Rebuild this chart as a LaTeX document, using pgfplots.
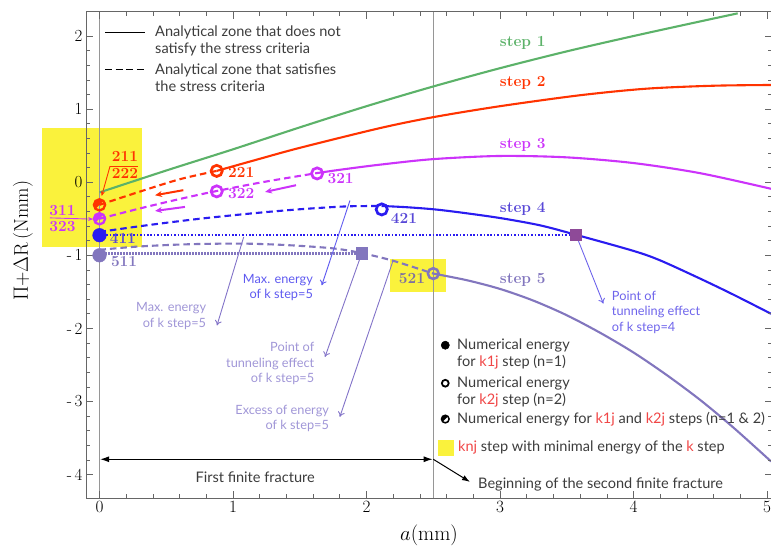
\documentclass[border=0pt]{standalone}
\usepackage{pgfplots}
\pgfplotsset{compat=1.18}
\usepackage{fontspec}
\newfontfamily\lato{Lato}
\usetikzlibrary{arrows.meta}

\definecolor{cgreen}{RGB}{92,178,105}
\definecolor{cred}{RGB}{255,51,0}
\definecolor{cmag}{RGB}{204,51,250}
\definecolor{cblue}{RGB}{42,28,240}
\definecolor{cbluelab}{RGB}{88,72,215}
\definecolor{clav}{RGB}{130,118,190}
\definecolor{csqfour}{RGB}{142,74,152}
\definecolor{cyel}{RGB}{250,242,60}
\definecolor{cgridl}{RGB}{150,150,150}
\definecolor{ctext}{RGB}{60,60,60}
\definecolor{ckred}{RGB}{240,70,70}
\definecolor{cannlav}{RGB}{160,150,215}
\definecolor{carrlav}{RGB}{130,115,200}
\definecolor{cannblue}{RGB}{95,90,240}
\definecolor{cannfour}{RGB}{110,100,235}
\definecolor{clab521}{RGB}{125,112,160}

% half-filled circle: upper-left half filled, full outline
\pgfdeclareplotmark{halfo}{%
  \pgfpathmoveto{\pgfpointpolar{45}{\pgfplotmarksize}}%
  \pgfpatharc{45}{225}{\pgfplotmarksize}%
  \pgfpathclose
  \pgfusepathqfill
  \pgfpathcircle{\pgfpointorigin}{\pgfplotmarksize}%
  \pgfusepathqstroke
}

\newcommand\lgd{\lato\fontsize{14.6}{17}\selectfont}
\newcommand\ann{\lato\fontsize{12.8}{15.3}\selectfont}
\newcommand\stp{\fontsize{15.5}{16}\selectfont\bfseries}

\begin{document}
\begin{tikzpicture}
\begin{axis}[
  at={(86bp,48bp)}, anchor=south west,
  scale only axis, width=686bp, height=486.1bp,
  xmin=-0.101, xmax=5.037, ymin=-4.32, ymax=2.33,
  clip=false, axis on top,
  axis line style={draw=black!60, line width=0.8bp},
  tick style={black!60, line width=0.7bp},
  major tick length=7bp, minor tick length=4bp,
  xtick={0,1,2,3,4,5}, minor x tick num=4,
  ytick={-4,-3,-2,-1,0,1,2}, minor y tick num=4,
  yticklabels={{-\,4},{-\,3},{-\,2},{-\,1},0,1,2},
  xticklabel style={font=\fontsize{19}{19}\selectfont},
  yticklabel style={font=\fontsize{17}{17}\selectfont},
  xlabel={\(a\)(mm)},
  ylabel={\(\Pi\)+\(\Delta\)R\,(Nmm)},
  xlabel style={at={(axis description cs:0.5,-0.076)}, anchor=center, font=\fontsize{21}{21}\selectfont},
  ylabel style={at={(axis description cs:-0.092,0.529)}, anchor=center, font=\fontsize{20}{20}\selectfont},
  every axis plot/.append style={line width=2.1bp},
]

% highlighted steps with minimal energy
\fill[cyel] (axis cs:-0.433,0.748) rectangle (axis cs:0.316,-0.893);
\fill[cyel] (axis cs:2.176,-1.053) rectangle (axis cs:2.595,-1.505);

% first and second finite fracture limits
\addplot[cgridl, line width=1bp] coordinates {(0,-4.32) (0,2.33)};
\addplot[cgridl, line width=1bp] coordinates {(2.5,-4.32) (2.5,2.33)};

% step 1
\addplot[cgreen, smooth] coordinates {(0,-0.14) (0.5,0.16) (1,0.45) (1.5,0.75) (2,1.04) (2.5,1.31) (3,1.56) (3.5,1.79) (4,2.0) (4.5,2.2) (4.78,2.31)};

% step 2
\addplot[cred, smooth, dash pattern=on 6.5bp off 4bp] coordinates {(0,-0.31) (0.3,-0.13) (0.6,0.04) (0.878,0.155)};
\addplot[cred, smooth] coordinates {(0.878,0.155) (1.2,0.32) (1.5,0.47) (2.1,0.74) (2.5,0.89) (3.0,1.04) (3.6,1.19) (4.1,1.28) (4.6,1.32) (5.03,1.33)};

% step 3
\addplot[cmag, smooth, dash pattern=on 6.5bp off 4bp] coordinates {(0,-0.50) (0.3,-0.36) (0.6,-0.23) (0.878,-0.12) (1.25,0.01) (1.63,0.125)};
\addplot[cmag, smooth] coordinates {(1.63,0.125) (1.8,0.17) (2.1,0.24) (2.5,0.316) (3.0,0.359) (3.5,0.34) (4.0,0.262) (4.5,0.123) (5.03,-0.09)};

% step 4
\addplot[cblue, smooth, dash pattern=on 6.5bp off 4bp] coordinates {(0,-0.68) (0.25,-0.615) (0.5,-0.555) (0.75,-0.50) (1.0,-0.452) (1.25,-0.408) (1.5,-0.37) (1.75,-0.34) (1.9,-0.328) (2.114,-0.325)};
\addplot[cblue, smooth] coordinates {(2.114,-0.325) (2.3,-0.342) (2.5,-0.37) (2.7,-0.413) (3.0,-0.49) (3.3,-0.59) (3.57,-0.72) (4.0,-0.94) (4.2,-1.07) (4.5,-1.32) (4.75,-1.54) (5.03,-1.80)};
\addplot[cblue, line width=2.5bp, dash pattern=on 1.6bp off 1.8bp] coordinates {(0,-0.725) (3.569,-0.725)};

% step 5
\addplot[clav, smooth, dash pattern=on 6.5bp off 4bp] coordinates {(0,-0.925) (0.25,-0.885) (0.5,-0.86) (0.75,-0.845) (1.08,-0.84) (1.4,-0.86) (1.75,-0.905) (1.964,-0.97) (2.2,-1.075) (2.5,-1.25)};
\addplot[clav, smooth] coordinates {(2.5,-1.25) (2.75,-1.34) (3.0,-1.46) (3.25,-1.62) (3.5,-1.82) (3.75,-2.06) (4.0,-2.33) (4.25,-2.64) (4.5,-2.98) (4.75,-3.36) (5.03,-3.82)};
\addplot[clav, line width=2.7bp, dash pattern=on 1.5bp off 1.5bp] coordinates {(0,-0.975) (1.964,-0.975)};

% direction arrows
\draw[cred, line width=2bp, -{Stealth[length=7bp,width=6bp]}] (axis cs:0.628,-0.109) -- (axis cs:0.416,-0.178);
\draw[cmag, line width=2bp, -{Stealth[length=7bp,width=6bp]}] (axis cs:0.640,-0.338) -- (axis cs:0.416,-0.393);
\draw[cmag, line width=2bp, -{Stealth[length=7bp,width=6bp]}] (axis cs:1.472,-0.041) -- (axis cs:1.240,-0.133);

% annotation arrows
\draw[carrlav, line width=0.9bp, -{To[length=5bp,width=7bp]}] (axis cs:1.08,-0.75) -- (axis cs:0.88,-1.96);
\draw[cannblue, line width=0.9bp, -{To[length=5bp,width=7bp]}] (axis cs:1.876,-0.25) -- (axis cs:1.665,-1.41);
\draw[carrlav, line width=0.9bp, -{To[length=5bp,width=7bp]}] (axis cs:1.964,-0.975) -- (axis cs:1.689,-2.39);
\draw[carrlav, line width=0.9bp, -{To[length=5bp,width=7bp]}] (axis cs:2.20,-1.067) -- (axis cs:1.80,-3.21);
\draw[cannfour, line width=0.9bp, -{To[length=5bp,width=7bp]}] (axis cs:3.569,-0.72) -- (axis cs:3.774,-1.66);

% numerical energies
\addplot[only marks, cred, mark=halfo, mark size=5.6bp, mark options={fill=cred, line width=2.3bp}] coordinates {(0,-0.31)};
\addplot[only marks, cmag, mark=halfo, mark size=5.6bp, mark options={fill=cmag, line width=2.3bp}] coordinates {(0,-0.50)};
\addplot[only marks, cblue, mark=*, mark size=6.8bp, mark options={fill=cblue, line width=0.5bp}] coordinates {(0,-0.725)};
\addplot[only marks, clav, mark=*, mark size=6.8bp, mark options={fill=clav, line width=0.5bp}] coordinates {(0,-1.0)};
\addplot[only marks, cred, mark=o, mark size=5.6bp, mark options={fill=white, line width=2.7bp}] coordinates {(0.878,0.155)};
\addplot[only marks, cmag, mark=o, mark size=5.6bp, mark options={fill=white, line width=2.7bp}] coordinates {(0.878,-0.125) (1.63,0.12)};
\addplot[only marks, cblue, mark=o, mark size=5.6bp, mark options={fill=white, line width=2.7bp}] coordinates {(2.114,-0.372)};
\addplot[only marks, clav, mark=o, mark size=5.4bp, mark options={fill=white, line width=2.5bp}] coordinates {(2.5,-1.25)};
% tunneling points
\addplot[only marks, csqfour, mark=square*, mark size=5.5bp, mark options={fill=csqfour, draw=csqfour, line width=0.5bp}] coordinates {(3.569,-0.72)};
\addplot[only marks, clav, mark=square*, mark size=5.8bp, mark options={fill=clav, draw=clav, line width=0.5bp}] coordinates {(1.964,-0.975)};

% step names
\node[cgreen, font=\stp] at (axis cs:3.17,1.90) {step 1};
\node[cred, font=\stp] at (axis cs:3.17,1.355) {step 2};
\node[cmag, font=\stp] at (axis cs:3.17,0.506) {step 3};
\node[cbluelab, font=\stp] at (axis cs:3.17,-0.37) {step 4};
\node[clav, font=\stp] at (axis cs:3.17,-1.34) {step 5};

% point labels
\node[cred, font=\stp] at (axis cs:1.062,0.127) {221};
\node[cmag, font=\stp] at (axis cs:1.062,-0.155) {322};
\node[cmag, font=\stp] at (axis cs:1.806,0.05) {321};
\node[cbluelab, font=\stp] at (axis cs:2.28,-0.497) {421};
\node[cbluelab, font=\stp] at (axis cs:0.175,-0.77) {411};
\node[clav, font=\stp] at (axis cs:0.184,-1.09) {511};
\node[clab521, font=\stp] at (axis cs:2.34,-1.317) {521};
\node[cred, font=\stp] at (axis cs:0.191,0.358) {211};
\node[cred, font=\stp] at (axis cs:0.191,0.123) {222};
\draw[cred, line width=0.9bp] (axis cs:0.079,0.219) -- (axis cs:0.29,0.219);
\draw[cred, line width=0.9bp, -{Stealth[length=5bp,width=4bp]}] (axis cs:0.079,0.219) -- (axis cs:0.016,-0.19);
\node[cmag, font=\stp] at (axis cs:-0.277,-0.383) {311};
\node[cmag, font=\stp] at (axis cs:-0.277,-0.611) {323};
\draw[cmag, line width=0.9bp, -{Stealth[length=5bp,width=4bp]}] (axis cs:-0.371,-0.488) -- (axis cs:-0.048,-0.505);

% annotation texts
\node[anchor=east, align=right, inner sep=0, text=cannlav, font=\ann] at (axis cs:0.80,-1.83) {Max. energy\\of k step=5};
\node[anchor=east, align=right, inner sep=0, text=cannblue, font=\ann] at (axis cs:1.60,-1.443) {Max. energy\\of k step=5};
\node[anchor=east, align=right, inner sep=0, text=cannlav, font=\ann] at (axis cs:1.61,-2.48) {Point of\\tunneling effect\\of k step=5};
\node[anchor=east, align=right, inner sep=0, text=cannlav, font=\ann] at (axis cs:1.72,-3.23) {Excess of energy\\of k step=5};
\node[anchor=west, align=left, inner sep=0, text=cannfour, font=\ann] at (axis cs:3.837,-1.78) {Point of\\tunneling effect\\of k step=4};

% line style key
\draw[black, line width=1.9bp] (axis cs:0.042,2.048) -- (axis cs:0.341,2.048);
\draw[black, line width=1.9bp, dash pattern=on 7bp off 3.5bp] (axis cs:0.042,1.542) -- (axis cs:0.341,1.542);
\node[anchor=west, align=left, inner sep=0, text=ctext, font=\lgd] at (axis cs:0.416,1.936) {Analytical zone that does not\\satisfy the stress criteria};
\node[anchor=west, align=left, inner sep=0, text=ctext, font=\lgd] at (axis cs:0.416,1.43) {Analytical zone that satisfies\\the stress criteria};

% marker key
\addplot[only marks, black, mark=*, mark size=4.1bp, mark options={line width=0.5bp}] coordinates {(2.59,-2.23)};
\addplot[only marks, black, mark=o, mark size=3.4bp, mark options={fill=white, line width=1.8bp}] coordinates {(2.59,-2.75)};
\addplot[only marks, black, mark=halfo, mark size=3.8bp, mark options={fill=black, line width=1.5bp}] coordinates {(2.59,-3.24)};
\addplot[only marks, cyel, mark=square*, mark size=7.5bp, mark options={fill=cyel, draw=cyel, line width=0.3bp}] coordinates {(2.592,-3.625)};
\node[anchor=west, align=left, inner sep=0, text=ctext, font=\lgd] at (axis cs:2.678,-2.346) {Numerical energy\\for \textcolor{ckred}{k1j} step (n=1)};
\node[anchor=west, align=left, inner sep=0, text=ctext, font=\lgd] at (axis cs:2.678,-2.866) {Numerical energy\\for \textcolor{ckred}{k2j} step (n=2)};
\node[anchor=west, inner sep=0, text=ctext, font=\lgd] at (axis cs:2.678,-3.24) {Numerical energy for \textcolor{ckred}{k1j} and \textcolor{ckred}{k2j} steps (n=1 \& 2)};
\node[anchor=west, inner sep=0, text=ctext, font=\lgd] at (axis cs:2.685,-3.625) {\textcolor{ckred}{knj} step with minimal energy of the \textcolor{ckred}{k} step};

% finite fracture extents
\draw[black, line width=1bp, {Latex[length=9bp,width=6bp]}-{Latex[length=9bp,width=6bp]}] (axis cs:0.005,-3.79) -- (axis cs:2.495,-3.79);
\node[text=ctext, font=\lgd] at (axis cs:1.166,-4.031) {First finite fracture};
\draw[black, line width=1bp, -{Latex[length=8bp,width=5.5bp]}] (axis cs:2.5,-3.79) -- (axis cs:2.775,-4.10);
\node[anchor=west, inner sep=0, text=ctext, font=\lgd] at (axis cs:2.835,-4.131) {Beginning of the second finite fracture};
\end{axis}
\pgfresetboundingbox
\useasboundingbox (0,0) rectangle (771bp,546bp);
\end{tikzpicture}
\end{document}
